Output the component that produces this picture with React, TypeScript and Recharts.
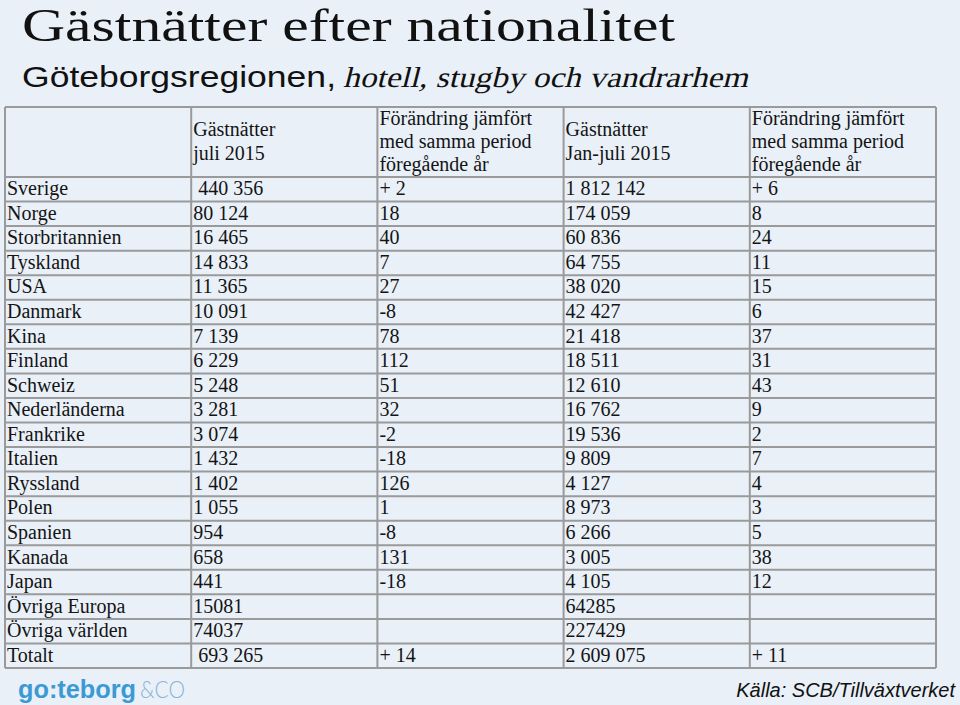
import { ScatterChart, Scatter, XAxis, YAxis, CartesianGrid } from 'recharts'

const headers = [
  [],
  ['Gästnätter', 'juli 2015'],
  ['Förändring jämfört', 'med samma period', 'föregående år'],
  ['Gästnätter', 'Jan-juli 2015'],
  ['Förändring jämfört', 'med samma period', 'föregående år'],
]

const countries = [
  'Sverige', 'Norge', 'Storbritannien', 'Tyskland', 'USA', 'Danmark', 'Kina', 'Finland', 'Schweiz',
  'Nederländerna', 'Frankrike', 'Italien', 'Ryssland', 'Polen', 'Spanien', 'Kanada', 'Japan',
  'Övriga Europa', 'Övriga världen', 'Totalt',
]
const julyNights = [
  ' 440 356', '80 124', '16 465', '14 833', '11 365', '10 091', '7 139', '6 229', '5 248', '3 281',
  '3 074', '1 432', '1 402', '1 055', '954', '658', '441', '15081', '74037', ' 693 265',
]
const julyChange = [
  '+ 2', '18', '40', '7', '27', '-8', '78', '112', '51', '32', '-2', '-18', '126', '1', '-8', '131',
  '-18', '', '', '+ 14',
]
const ytdNights = [
  '1 812 142', '174 059', '60 836', '64 755', '38 020', '42 427', '21 418', '18 511', '12 610',
  '16 762', '19 536', '9 809', '4 127', '8 973', '6 266', '3 005', '4 105', '64285', '227429',
  '2 609 075',
]
const ytdChange = [
  '+ 6', '8', '24', '11', '15', '6', '37', '31', '43', '9', '2', '7', '4', '3', '5', '38', '12', '',
  '', '+ 11',
]

// header row is taller than the data rows (in row units)
const HEADER = 2.85

const columns = [countries, julyNights, julyChange, ytdNights, ytdChange]

const cells = [
  ...headers.map((lines, col) => ({ col, row: -HEADER / 2, lines })),
  ...columns.flatMap((values, col) =>
    values.map((v, r) => ({ col, row: r + 0.5, lines: [v] }))
  ),
]

const SERIF = '"Liberation Serif", "Times New Roman", serif'

function CellText(props: any) {
  const { cx, cy, payload } = props
  const lines: string[] = payload.lines
  if (!lines.length) return null
  const lh = lines.length === 2 ? 24 : 23
  const start = cy - ((lines.length - 1) / 2) * lh + 6
  return (
    <text x={cx + 2} y={start} fontFamily={SERIF} fontSize={20} fill="#141414" style={{ whiteSpace: 'pre' }}>
      {lines.map((l, i) => (
        <tspan key={i} x={cx + 2} y={start + i * lh}>{l}</tspan>
      ))}
    </text>
  )
}

export default function App() {
  const yTicks = [-HEADER, ...countries.map((_, i) => i), countries.length]
  return (
    <div style={{ position: 'absolute', left: 0, top: 0, width: 960, height: 705, background: '#e9f0f8' }}>
      <svg width={960} height={705} style={{ position: 'absolute', left: 0, top: 0 }}>
        <text x={22} y={41} fontFamily={SERIF} fontSize={46} fill="#111" textLength={653} lengthAdjust="spacingAndGlyphs">
          Gästnätter efter nationalitet
        </text>
        <text x={22} y={87} fontFamily='"Liberation Sans", Arial, sans-serif' fontSize={29} fill="#111" textLength={314} lengthAdjust="spacingAndGlyphs">
          Göteborgsregionen,
        </text>
        <text transform="translate(343,87) skewX(-14)" x={0} y={0} fontFamily={SERIF} fontSize={29} fill="#111" textLength={405} lengthAdjust="spacingAndGlyphs">
          hotell, stugby och vandrarhem
        </text>
        <text x={18} y={698} fontFamily='"Liberation Sans", Arial, sans-serif' fontWeight="bold" fontSize={26} fill="#3b9ad4" textLength={118} lengthAdjust="spacingAndGlyphs">
          go:teborg
        </text>
        <text x={140} y={698} fontFamily='Lato, "Liberation Sans", sans-serif' fontWeight={300} fontSize={23} fill="#8ab4d6" textLength={45} lengthAdjust="spacingAndGlyphs">
          &amp;CO
        </text>
        <text x={955} y={697} textAnchor="end" fontFamily='"Liberation Sans", Arial, sans-serif' fontStyle="italic" fontSize={20} fill="#111">
          Källa: SCB/Tillväxtverket
        </text>
      </svg>
      <div style={{ position: 'absolute', left: 0, top: 0 }}>
        <ScatterChart width={960} height={705} margin={{ top: 107, right: 24, bottom: 37, left: 5 }}>
          <CartesianGrid stroke="#9a9a9a" strokeWidth={2} />
          <XAxis type="number" dataKey="col" domain={[0, 5]} ticks={[0, 1, 2, 3, 4, 5]} hide />
          <YAxis type="number" dataKey="row" domain={[-HEADER, countries.length]} ticks={yTicks} reversed hide />
          <Scatter data={cells} shape={CellText} isAnimationActive={false} />
        </ScatterChart>
      </div>
    </div>
  )
}
